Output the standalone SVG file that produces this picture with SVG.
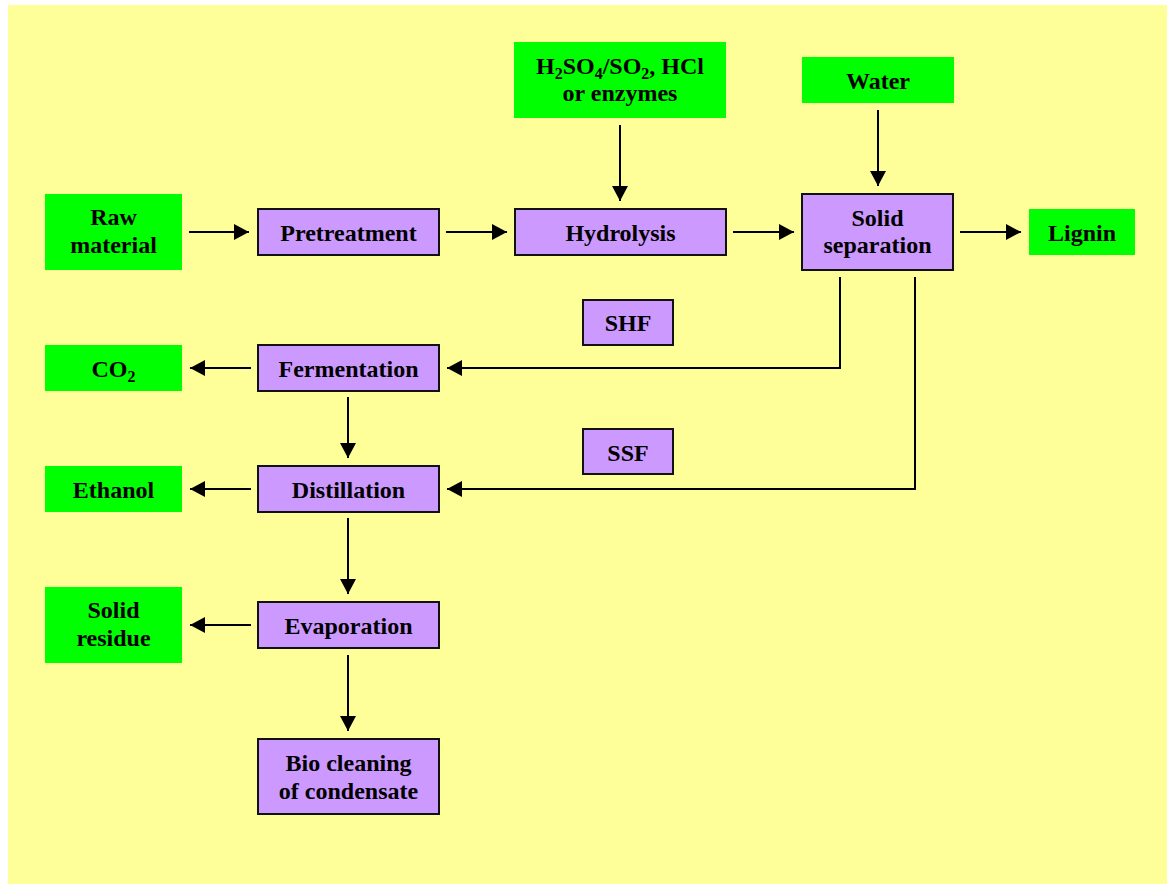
<svg xmlns="http://www.w3.org/2000/svg" width="1167" height="884" viewBox="0 0 1167 884">
<defs>
<style>
.bg{fill:#FFFF99}
.g{fill:#00FF00}
.p{fill:#CC99FF;stroke:#111;stroke-width:2}
text{font-family:"Liberation Serif","Times New Roman",serif;font-weight:bold;font-size:24px;fill:#000;text-anchor:middle}
.sub{font-size:16px}
.c{fill:none;stroke:#000;stroke-width:2}
</style>
<marker id="ah" markerUnits="userSpaceOnUse" markerWidth="15" markerHeight="16" refX="15" refY="8" orient="auto">
<path d="M0,0 L15,8 L0,16 z" fill="#000"/>
</marker>
</defs>
<rect class="bg" x="8" y="5" width="1159" height="879"/>

<g id="connectors">
<path class="c" d="M189,232 H249" marker-end="url(#ah)"/>
<path class="c" d="M446,232 H507" marker-end="url(#ah)"/>
<path class="c" d="M733,232 H794" marker-end="url(#ah)"/>
<path class="c" d="M960,232 H1021" marker-end="url(#ah)"/>
<path class="c" d="M620,125 V201" marker-end="url(#ah)"/>
<path class="c" d="M878,110 V186" marker-end="url(#ah)"/>
<path class="c" d="M840,277 V368 H447" marker-end="url(#ah)"/>
<path class="c" d="M915,277 V489 H447" marker-end="url(#ah)"/>
<path class="c" d="M251,368 H190" marker-end="url(#ah)"/>
<path class="c" d="M348,397 V458" marker-end="url(#ah)"/>
<path class="c" d="M251,489 H190" marker-end="url(#ah)"/>
<path class="c" d="M348,518 V594" marker-end="url(#ah)"/>
<path class="c" d="M251,625 H190" marker-end="url(#ah)"/>
<path class="c" d="M348,655 V731" marker-end="url(#ah)"/>
</g>

<g id="raw-material">
<rect class="g" x="45" y="194" width="137" height="76"/>
<text x="113.5" y="225">Raw</text>
<text x="113.5" y="253">material</text>
</g>
<g id="pretreatment">
<rect class="p" x="258" y="209" width="181" height="46"/>
<text x="348.5" y="241">Pretreatment</text>
</g>
<g id="reagents">
<rect class="g" x="514" y="42" width="212" height="76"/>
<text x="620" y="74">H<tspan class="sub" dy="5">2</tspan><tspan dy="-5">SO</tspan><tspan class="sub" dy="5">4</tspan><tspan dy="-5">/SO</tspan><tspan class="sub" dy="5">2</tspan><tspan dy="-5">, HCl</tspan></text>
<text x="620" y="101">or enzymes</text>
</g>
<g id="hydrolysis">
<rect class="p" x="515" y="209" width="211" height="46"/>
<text x="620.5" y="241">Hydrolysis</text>
</g>
<g id="water">
<rect class="g" x="802" y="57" width="152" height="46"/>
<text x="878" y="89">Water</text>
</g>
<g id="solid-separation">
<rect class="p" x="802" y="194" width="151" height="76"/>
<text x="877.5" y="226">Solid</text>
<text x="877.5" y="253">separation</text>
</g>
<g id="lignin">
<rect class="g" x="1029" y="209" width="106" height="46"/>
<text x="1082" y="241">Lignin</text>
</g>
<g id="shf">
<rect class="p" x="583" y="300" width="90" height="45"/>
<text x="628" y="331">SHF</text>
</g>
<g id="ssf">
<rect class="p" x="583" y="429" width="90" height="45"/>
<text x="628" y="461">SSF</text>
</g>
<g id="co2">
<rect class="g" x="45" y="345" width="137" height="46"/>
<text x="113.5" y="377">CO<tspan class="sub" dy="5">2</tspan></text>
</g>
<g id="fermentation">
<rect class="p" x="258" y="345" width="181" height="46"/>
<text x="348.5" y="377">Fermentation</text>
</g>
<g id="ethanol">
<rect class="g" x="45" y="466" width="137" height="46"/>
<text x="113.5" y="498">Ethanol</text>
</g>
<g id="distillation">
<rect class="p" x="258" y="466" width="181" height="46"/>
<text x="348.5" y="498">Distillation</text>
</g>
<g id="solid-residue">
<rect class="g" x="45" y="587" width="137" height="76"/>
<text x="113.5" y="618">Solid</text>
<text x="113.5" y="646">residue</text>
</g>
<g id="evaporation">
<rect class="p" x="258" y="602" width="181" height="46"/>
<text x="348.5" y="634">Evaporation</text>
</g>
<g id="bio-cleaning">
<rect class="p" x="258" y="739" width="181" height="75"/>
<text x="348.5" y="771">Bio cleaning</text>
<text x="348.5" y="799">of condensate</text>
</g>
</svg>
